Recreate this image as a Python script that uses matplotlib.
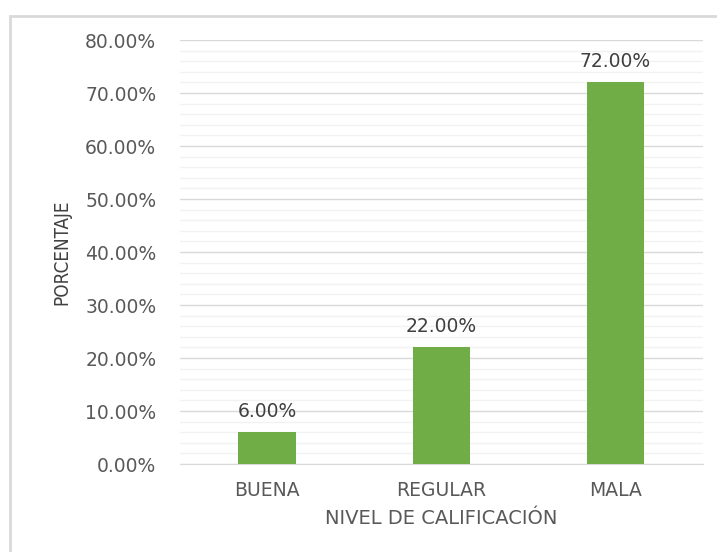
import numpy as np
import matplotlib.pyplot as plt
from matplotlib.patches import Rectangle
from matplotlib.ticker import MultipleLocator, FuncFormatter

# data
categorias = ["BUENA", "REGULAR", "MALA"]
porcentajes = [6.0, 22.0, 72.0]

plt.rcParams["font.family"] = ["DejaVu Sans"]

fig = plt.figure(figsize=(7.17, 5.52), dpi=100)
ax = fig.add_axes([0.251, 0.1594, 0.729, 0.768])

# chart border (only left and top visible in the image)
fig.patches.append(Rectangle((10 / 717, -0.1), 1.2, 1 - 16 / 552 + 0.1,
                             transform=fig.transFigure, fill=False,
                             edgecolor="#d9d9d9", linewidth=2))

x = np.arange(len(categorias))
bars = ax.bar(x, porcentajes, width=0.33, color="#70ad47", zorder=3)

for b, v in zip(bars, porcentajes):
    ax.text(b.get_x() + b.get_width() / 2, v + 2.2, f"{v:.2f}%",
            ha="center", va="bottom", fontsize=13.5, color="#404040")

ax.set_xlim(-0.5, 2.5)
ax.set_ylim(0, 80)
ax.yaxis.set_major_locator(MultipleLocator(10))
ax.yaxis.set_minor_locator(MultipleLocator(2))
ax.yaxis.set_major_formatter(FuncFormatter(lambda v, p: f"{v:.2f}%"))
ax.set_xticks(x)
ax.set_xticklabels(categorias)

ax.grid(axis="y", which="major", color="#d9d9d9", linewidth=1, zorder=0)
ax.grid(axis="y", which="minor", color="#f2f2f2", linewidth=1, zorder=0)

for s in ["top", "right", "left"]:
    ax.spines[s].set_visible(False)
ax.spines["bottom"].set_color("#d9d9d9")

ax.tick_params(axis="both", which="both", length=0, labelsize=13.5,
               labelcolor="#595959")
ax.tick_params(axis="y", pad=17)
ax.tick_params(axis="x", pad=12)

ax.set_xlabel("NIVEL DE CALIFICACIÓN", fontsize=14, color="#595959", labelpad=7)
ax.set_ylabel("PORCENTAJE", fontsize=13.5, color="#404040", labelpad=10,
              fontstretch="condensed")

fig.savefig("out.png", dpi=100)
